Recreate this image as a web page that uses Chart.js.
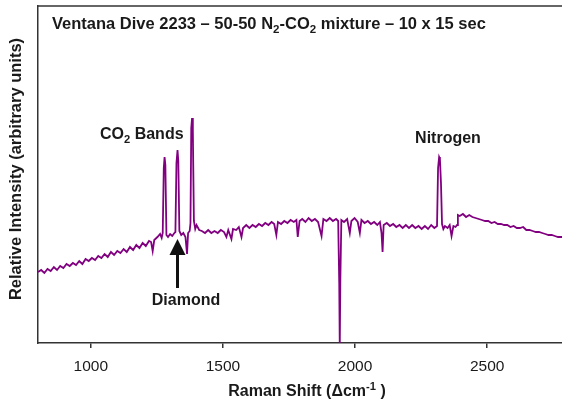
<!DOCTYPE html>
<html>
<head>
<meta charset="utf-8">
<script src="https://cdn.jsdelivr.net/npm/chart.js@4.4.1/dist/chart.umd.min.js"></script>
<style>
  html, body { margin: 0; padding: 0; background: #fff; }
  #chart { display: block; }
</style>
</head>
<body>
<canvas id="chart" width="562" height="400"></canvas>
<script>
// Raman shift (cm-1) and intensity (arbitrary units)
const shiftValues = [
  800, 812, 824, 836, 848, 860, 872, 884, 896, 908, 920, 932, 944, 956, 968, 980, 992,
  1004, 1016, 1028, 1040, 1052, 1064, 1076, 1088, 1100, 1112, 1124, 1136, 1148, 1160,
  1172, 1184, 1196, 1208, 1220, 1228, 1234, 1240, 1252, 1262, 1268, 1272,
  1276, 1279, 1282, 1286, 1292, 1300, 1308, 1316, 1320, 1324, 1328, 1331, 1335,
  1342, 1350, 1358, 1364, 1368, 1374, 1377, 1380, 1383, 1386, 1390, 1395,
  1400, 1410, 1420, 1432, 1444, 1456, 1468, 1480, 1492, 1504, 1513, 1520, 1532, 1538,
  1550, 1560, 1570, 1576, 1588, 1600, 1612, 1624, 1636, 1648, 1660, 1672, 1684, 1694,
  1702, 1708, 1720, 1732, 1744, 1756, 1768, 1778, 1783, 1790, 1800, 1812, 1824, 1836,
  1848, 1860, 1873, 1880, 1892, 1904, 1916, 1928, 1936, 1940, 1942, 1944, 1948, 1958,
  1970, 1980, 1986, 1998, 2010, 2018, 2024, 2036, 2048, 2060, 2072, 2084, 2094, 2100,
  2104, 2108, 2120, 2132, 2144, 2156, 2168, 2180, 2192, 2204, 2216, 2228, 2240, 2252,
  2264, 2276, 2288, 2300, 2310, 2314, 2318, 2321, 2325, 2329, 2334, 2340, 2350, 2358,
  2365, 2372, 2380, 2386, 2389, 2396, 2408, 2420, 2432, 2444, 2456, 2468, 2480, 2492,
  2504, 2516, 2528, 2540, 2552, 2564, 2576, 2588, 2600, 2612, 2624, 2636, 2648, 2660,
  2672, 2684, 2696, 2708, 2720, 2732, 2744, 2756, 2768, 2783
];
const intensityValues = [
  71, 73, 70, 74, 72, 76, 73, 77, 75, 79, 77, 80, 78, 82, 79, 84, 82,
  85, 83, 87, 85, 89, 86, 91, 88, 92, 90, 94, 91, 96, 93,
  98, 95, 100, 97, 102, 101, 92, 103, 106, 109, 105, 110,
  175, 186, 178, 108, 106, 109, 107, 110, 111, 180, 193, 182, 112,
  108, 110, 106, 89, 110, 112, 120, 215, 225, 212, 122, 114,
  118, 113, 112, 110, 113, 110, 112, 110, 113, 111, 106, 113, 104, 114,
  113, 116, 106, 115, 118, 115, 118, 116, 119, 117, 120, 118, 121, 119,
  108, 121, 119, 122, 120, 123, 121, 123, 106, 122, 124, 121, 125, 122,
  124, 121, 107, 124, 122, 125, 122, 124, 122, 60, -5, 60, 123, 121,
  124, 110, 122, 125, 121, 110, 123, 120, 122, 119, 121, 118, 121, 110,
  91, 118, 120, 117, 119, 116, 118, 115, 118, 115, 118, 115, 117, 114,
  117, 114, 118, 115, 117, 175, 186, 184, 160, 119, 114, 117, 115, 118,
  107, 117, 116, 118, 128, 127, 129, 126, 128, 126, 125, 124, 123, 122,
  122, 120, 121, 119, 119, 118, 118, 116, 117, 115, 115, 116, 113, 113,
  112, 111, 111, 110, 109, 108, 108, 107, 106, 106
];
const tickValues = [1000, 1500, 2000, 2500];

const textColor = "#1a1a1a";

// draws text pieces, some as sub/superscript
function drawRich(ctx, x, y, parts, size, align) {
  let total = 0;
  parts.forEach(p => {
    ctx.font = "bold " + (p[1] ? size * 0.7 : size) + "px Arial";
    total += ctx.measureText(p[0]).width;
  });
  let cx = align === "center" ? x - total / 2 : x;
  parts.forEach(p => {
    const s = p[1] ? size * 0.7 : size;
    ctx.font = "bold " + s + "px Arial";
    let dy = 0;
    if (p[1] === "sub") dy = size * 0.3;
    if (p[1] === "sup") dy = -size * 0.4;
    ctx.fillText(p[0], cx, y + dy);
    cx += ctx.measureText(p[0]).width;
  });
}

const labelsPlugin = {
  id: "labels",
  afterDraw(chart) {
    const ctx = chart.ctx;
    const area = chart.chartArea;
    ctx.save();
    // top border
    ctx.strokeStyle = "#333";
    ctx.lineWidth = 1.5;
    ctx.beginPath();
    ctx.moveTo(area.left, area.top);
    ctx.lineTo(area.right, area.top);
    ctx.stroke();

    ctx.fillStyle = textColor;
    ctx.textBaseline = "alphabetic";
    ctx.textAlign = "left";
    drawRich(ctx, 52, 28.5, [
      ["Ventana Dive 2233 \u2013 50-50 N"], ["2", "sub"], ["-CO"], ["2", "sub"],
      [" mixture \u2013 10 x 15 sec"]
    ], 16.5);
    drawRich(ctx, 100, 138.5, [["CO"], ["2", "sub"], [" Bands"]], 16);
    drawRich(ctx, 448, 143, [["Nitrogen"]], 16, "center");
    drawRich(ctx, 186, 304.5, [["Diamond"]], 16, "center");
    drawRich(ctx, 307, 396, [["Raman Shift (\u0394cm"], ["-1", "sup"], [" )"]], 16, "center");

    // y title
    ctx.save();
    ctx.translate(21, 169);
    ctx.rotate(-Math.PI / 2);
    drawRich(ctx, 0, 0, [["Relative Intensity (arbitrary units)"]], 16.5, "center");
    ctx.restore();

    // arrow to diamond band
    const ax = 177.5;
    ctx.fillStyle = "#111";
    ctx.fillRect(ax - 1.5, 254, 3, 34);
    ctx.beginPath();
    ctx.moveTo(ax, 239);
    ctx.lineTo(ax - 8, 255);
    ctx.lineTo(ax + 8, 255);
    ctx.closePath();
    ctx.fill();
    ctx.restore();
  }
};

new Chart(document.getElementById("chart"), {
  type: "line",
  data: {
    datasets: [{
      data: shiftValues.map((x, i) => ({ x, y: intensityValues[i] })),
      borderColor: "#800080",
      borderWidth: 1.8,
      pointRadius: 0,
      tension: 0
    }]
  },
  options: {
    responsive: false,
    animation: false,
    layout: { padding: { top: 6, right: 0, left: 0, bottom: 0 } },
    plugins: { legend: { display: false }, tooltip: { enabled: false } },
    scales: {
      x: {
        type: "linear",
        min: 800,
        max: 2783,
        afterBuildTicks: s => { s.ticks = tickValues.map(v => ({ value: v })); },
        afterFit: s => { s.height = 57; },
        grid: { drawOnChartArea: false, drawTicks: true, tickLength: 5, color: "#333", lineWidth: 1.5 },
        border: { color: "#333", width: 1.5 },
        ticks: {
          font: { family: "Arial", size: 15.5 }, color: textColor, padding: 9,
          maxRotation: 0, autoSkip: false, callback: v => String(v)
        }
      },
      y: {
        min: 0,
        max: 337,
        afterFit: s => { s.width = 38; },
        ticks: { display: false },
        grid: { display: false },
        border: { display: true, color: "#333", width: 1.5 }
      }
    }
  },
  plugins: [labelsPlugin]
});
</script>
</body>
</html>
